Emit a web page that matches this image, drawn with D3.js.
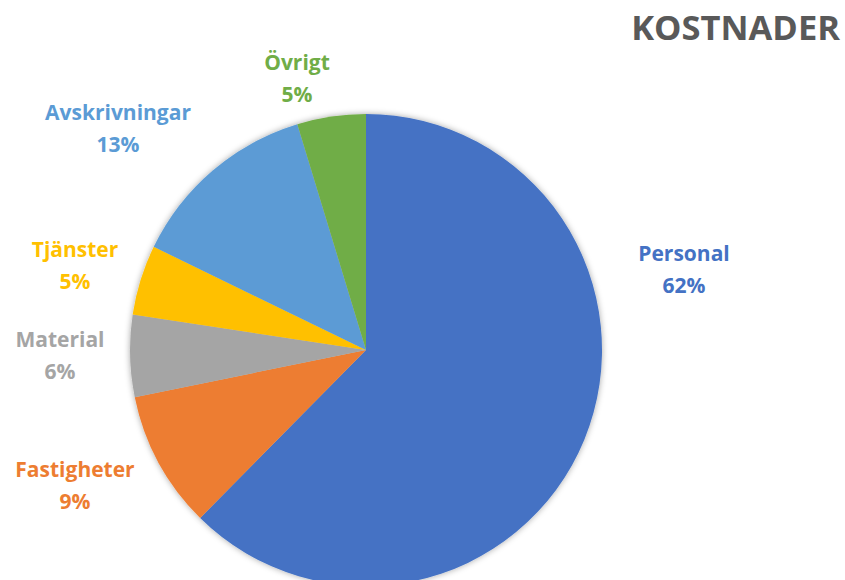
<!DOCTYPE html>
<html>
<head>
<meta charset="utf-8">
<script src="https://cdn.jsdelivr.net/npm/d3@7"></script>
<style>
  body { margin: 0; background: #fff; }
  svg { display: block; font-family: "Open Sans", sans-serif; }
</style>
</head>
<body>
<svg width="845" height="580"></svg>
<script>
// Data (clockwise from 12 o'clock)
var categories = ['Personal', 'Fastigheter', 'Material', 'Tjänster', 'Avskrivningar', 'Övrigt'];
var values = [62.4, 9.4, 5.6, 4.8, 13.1, 4.7];
var colors = ['#4472C4', '#ED7D31', '#A5A5A5', '#FFC000', '#5B9BD5', '#70AD47'];

var svg = d3.select('svg');
var cx = 366, cy = 350, radius = 236;

// soft shadow under the pie
var defs = svg.append('defs');
var f = defs.append('filter').attr('id', 'shadow')
    .attr('x', '-10%').attr('y', '-10%').attr('width', '120%').attr('height', '120%');
f.append('feDropShadow').attr('dx', 0).attr('dy', 0)
    .attr('stdDeviation', 3).attr('flood-color', '#000').attr('flood-opacity', 0.35);

var data = categories.map(function(c, i) { return { name: c, value: values[i], color: colors[i] }; });

var pie = d3.pie().sort(null).value(function(d) { return d.value; });
var arc = d3.arc().innerRadius(0).outerRadius(radius);
var total = d3.sum(values);

var g = svg.append('g').attr('transform', 'translate(' + cx + ',' + cy + ')');

g.append('g').attr('filter', 'url(#shadow)')
  .selectAll('path')
    .data(pie(data))
  .enter().append('path')
    .attr('d', arc)
    .attr('fill', function(d) { return d.data.color; });

// label placement, relative to pie center (Excel best-fit spots)
var labelOffsets = {
  'Personal': [318, -80],
  'Fastigheter': [-291, 136],
  'Material': [-306, 6],
  'Tjänster': [-291, -84],
  'Avskrivningar': [-248, -221],
  'Övrigt': [-69, -271]
};

var labels = g.selectAll('.label')
    .data(pie(data))
  .enter().append('text')
    .attr('class', 'label')
    .attr('transform', function(d) {
      var o = labelOffsets[d.data.name];
      return 'translate(' + o[0] + ',' + o[1] + ')';
    })
    .attr('text-anchor', 'middle')
    .attr('fill', function(d) { return d.data.color; })
    .style('font-size', '21px')
    .style('font-weight', 'bold');

labels.append('tspan')
    .attr('x', 0).attr('y', -16).attr('dy', '0.35em')
    .text(function(d) { return d.data.name; });
labels.append('tspan')
    .attr('x', 0).attr('y', 16).attr('dy', '0.35em')
    .text(function(d) { return Math.round(d.data.value / total * 100) + '%'; });

// title
svg.append('text')
    .attr('x', 840).attr('y', 40)
    .attr('text-anchor', 'end')
    .attr('fill', '#595959')
    .style('font-size', '34.5px')
    .style('font-weight', 'bold')
    .text('KOSTNADER');
</script>
</body>
</html>
